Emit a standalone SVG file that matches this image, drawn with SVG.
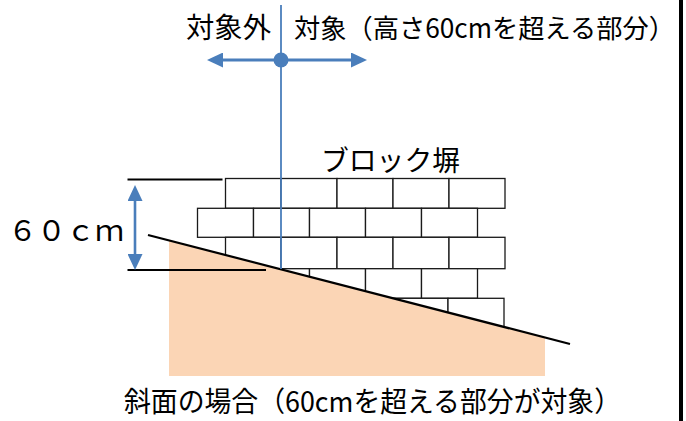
<svg xmlns="http://www.w3.org/2000/svg" width="686" height="421" viewBox="0 0 686 421">
  <style>
    .t { font-family: "Noto Sans CJK JP", "Noto Sans", sans-serif; fill: #000; }
    .b { fill: #fff; stroke: #1a1a1a; stroke-width: 1.3; }
    .blk { stroke: #000; fill: none; }
    .blue { stroke: #4a7ebb; fill: none; }
  </style>
  <defs>
    <marker id="ah" viewBox="0 0 16 15" refX="0" refY="7.5" markerWidth="16" markerHeight="15" markerUnits="userSpaceOnUse" orient="auto-start-reverse">
      <path d="M0,0 L16,7.5 L0,15 Z" fill="#4a7ebb"/>
    </marker>
  </defs>
  <rect width="686" height="421" fill="#fff"/>

  <g id="wall">
    <rect class="b" x="225.5" y="178.5" width="55.5" height="29.8"/>
    <rect class="b" x="281" y="178.5" width="56" height="29.8"/>
    <rect class="b" x="337" y="178.5" width="56" height="29.8"/>
    <rect class="b" x="393" y="178.5" width="56" height="29.8"/>
    <rect class="b" x="449" y="178.5" width="56" height="29.8"/>

    <rect class="b" x="197.5" y="208.3" width="56" height="29"/>
    <rect class="b" x="253.5" y="208.3" width="56" height="29"/>
    <rect class="b" x="309.5" y="208.3" width="56" height="29"/>
    <rect class="b" x="365.5" y="208.3" width="56" height="29"/>
    <rect class="b" x="421.5" y="208.3" width="56" height="29"/>

    <rect class="b" x="225.5" y="237.3" width="55.5" height="31.4"/>
    <rect class="b" x="281" y="237.3" width="56" height="31.4"/>
    <rect class="b" x="337" y="237.3" width="56" height="31.4"/>
    <rect class="b" x="393" y="237.3" width="56" height="31.4"/>
    <rect class="b" x="449" y="237.3" width="56" height="31.4"/>

    <rect class="b" x="197.5" y="268.7" width="56" height="29.6"/>
    <rect class="b" x="253.5" y="268.7" width="56" height="29.6"/>
    <rect class="b" x="309.5" y="268.7" width="56" height="29.6"/>
    <rect class="b" x="365.5" y="268.7" width="56" height="29.6"/>
    <rect class="b" x="421.5" y="268.7" width="56" height="29.6"/>

    <rect class="b" x="224" y="298.3" width="56" height="30"/>
    <rect class="b" x="280" y="298.3" width="56" height="30"/>
    <rect class="b" x="336" y="298.3" width="56" height="30"/>
    <rect class="b" x="392" y="298.3" width="56" height="30"/>
    <rect class="b" x="448" y="298.3" width="56" height="30"/>
  </g>

  <g id="ground">
    <polygon points="169,240.6 545,337.4 545,376 169,376" fill="#fbd5b5"/>
    <line class="blk" x1="148" y1="235" x2="570" y2="344" stroke-width="2.2"/>
  </g>

  <g id="connectors">
    <line class="blue" x1="281" y1="5" x2="281" y2="269" stroke-width="1.8"/>
    <line class="blue" x1="223" y1="60" x2="351" y2="60" stroke-width="3" marker-start="url(#ah)" marker-end="url(#ah)"/>
    <circle cx="281" cy="60" r="7.5" fill="#4a7ebb"/>
    <line class="blk" x1="127.5" y1="179.5" x2="222.5" y2="179.5" stroke-width="1.8"/>
    <line class="blk" x1="127.5" y1="270" x2="266" y2="270" stroke-width="1.8"/>
    <line class="blue" x1="135" y1="201" x2="135" y2="254" stroke-width="2.6" marker-start="url(#ah)" marker-end="url(#ah)"/>
  </g>

  <g id="labels">
    <text class="t" x="186" y="38" font-size="28" textLength="85" lengthAdjust="spacingAndGlyphs">対象外</text>
    <text class="t" x="294" y="38" font-size="26.5" textLength="381" lengthAdjust="spacingAndGlyphs">対象（高さ60cmを超える部分）</text>
    <text class="t" x="321" y="171" font-size="28.5" textLength="139" lengthAdjust="spacingAndGlyphs">ブロック塀</text>
    <text class="t" x="8" y="241" font-size="29">６０ｃｍ</text>
    <text class="t" x="124" y="412" font-size="28" textLength="497" lengthAdjust="spacingAndGlyphs">斜面の場合（60cmを超える部分が対象）</text>
  </g>

  <rect id="edge" x="679" y="0" width="4" height="421" fill="#000"/>
</svg>
